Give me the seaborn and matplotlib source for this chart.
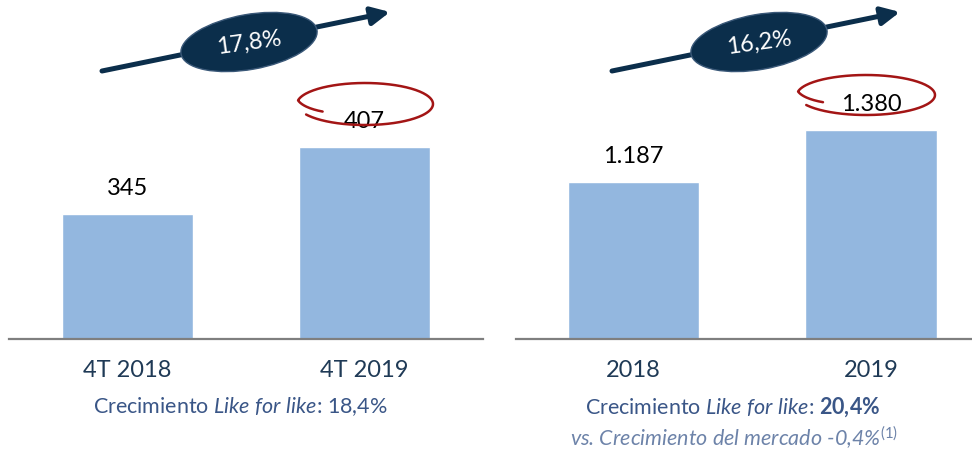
import numpy as np
import pandas as pd
import matplotlib
matplotlib.use('Agg')
import matplotlib.pyplot as plt
from matplotlib.patches import Ellipse
import seaborn as sns


# Data
periods_q = ['4T 2018', '4T 2019']
sales_q = [345, 407]
periods_y = ['2018', '2019']
sales_y = [1187, 1380]
growth = ['17,8%', '16,2%']
lfl = [r'18{,}4\%', r'\mathbf{20{,}4\%}']
market = '-0,4%'

# Colours
bar_col = '#93B7DF'
navy = '#0B2E4B'
red = '#A31515'
tick_col = '#1F3A56'
lfl_col = '#3A5687'
note_col = '#6D83A9'

sns.set_theme(style='white')
plt.rcParams['font.family'] = ['Lato', 'DejaVu Sans']
plt.rcParams['mathtext.fontset'] = 'custom'
plt.rcParams['mathtext.rm'] = 'Lato'
plt.rcParams['mathtext.it'] = 'Lato:italic'
plt.rcParams['mathtext.bf'] = 'Lato:bold'


def fmt(v):
    return f'{v:,.0f}'.replace(',', '.')


fig = plt.figure(figsize=(9.72, 4.5), dpi=100)
ax0 = fig.add_axes([9 / 972, 111 / 450, 474 / 972, 339 / 450])
ax1 = fig.add_axes([516 / 972, 111 / 450, 456 / 972, 339 / 450])

panels = [(ax0, periods_q, sales_q, (-0.5, 1.5), (229.5, 543.2)),
          (ax1, periods_y, sales_y, (-0.495, 1.425), (604, 1862))]
for ax, cats, vals, xlim, ylim in panels:
    df = pd.DataFrame({'periodo': cats, 'ventas': vals})
    sns.barplot(data=df, x='periodo', y='ventas', color=bar_col,
                saturation=1, width=0.553, ax=ax)
    ax.bar_label(ax.containers[0], labels=[fmt(v) for v in vals],
                 padding=11, fontsize=17, color='black')
    ax.set_xlim(*xlim)
    ax.set_ylim(*ylim)
    ax.set_yticks([])
    ax.set_xlabel('')
    ax.set_ylabel('')
    ax.tick_params(axis='x', length=0, pad=15, labelsize=17,
                   labelcolor=tick_col)
    sns.despine(ax=ax, left=True)
    ax.spines['bottom'].set_color('#7F7F7F')
    ax.spines['bottom'].set_linewidth(1.6)
    ax.patch.set_alpha(0)

# Growth captions under each chart
for xc, val in zip([240, 733], lfl):
    fig.text(xc / 972, 1 - 407 / 450,
             r'Crecimiento $\mathit{Like\ for\ like}$: $' + val + '$',
             ha='center', va='center', fontsize=15.5, color=lfl_col)
fig.text(734 / 972, 1 - 438 / 450,
         f'vs. Crecimiento del mercado {market}' + r'$^{\mathit{(1)}}$',
         ha='center', va='center', fontsize=15.5, color=note_col,
         style='italic')

# Overlay in pixel coordinates for arrows and hand-drawn circles
ov = fig.add_axes([0, 0, 1, 1], zorder=5)
ov.set_xlim(0, 972)
ov.set_ylim(450, 0)
ov.axis('off')
ov.patch.set_alpha(0)

for (x0, y0, x1, y1, cx, cy), txt in zip([(102, 71, 390, 12, 249, 42),
                                           (612, 71, 900, 12, 759, 42)],
                                          growth):
    ov.annotate('', xy=(x1, y1), xytext=(x0, y0),
                arrowprops=dict(arrowstyle='-|>,head_length=0.55,head_width=0.27',
                                mutation_scale=20, lw=3.6, color=navy,
                                shrinkA=0, shrinkB=0))
    ov.add_patch(Ellipse((cx, cy), 138, 55, angle=-10, facecolor=navy,
                         edgecolor='#3A5878', lw=1, zorder=6))
    ov.text(cx, cy + 1, txt, ha='center', va='center', fontsize=17,
            color='white', rotation=8, zorder=7)

# Red swooshes around the latest values
t = np.radians(np.linspace(210, -150, 200))
for cx, cy, rx, ry in [(365, 104, 68, 21), (866, 95, 69, 20)]:
    s = 1 - 0.28 * np.clip((np.degrees(t) - 170) / 40, 0, 1)
    ov.plot(cx + rx * s * np.cos(t), cy - ry * s * np.sin(t),
            color=red, lw=1.8, solid_capstyle='round')

plt.savefig('out.png', dpi=100)
